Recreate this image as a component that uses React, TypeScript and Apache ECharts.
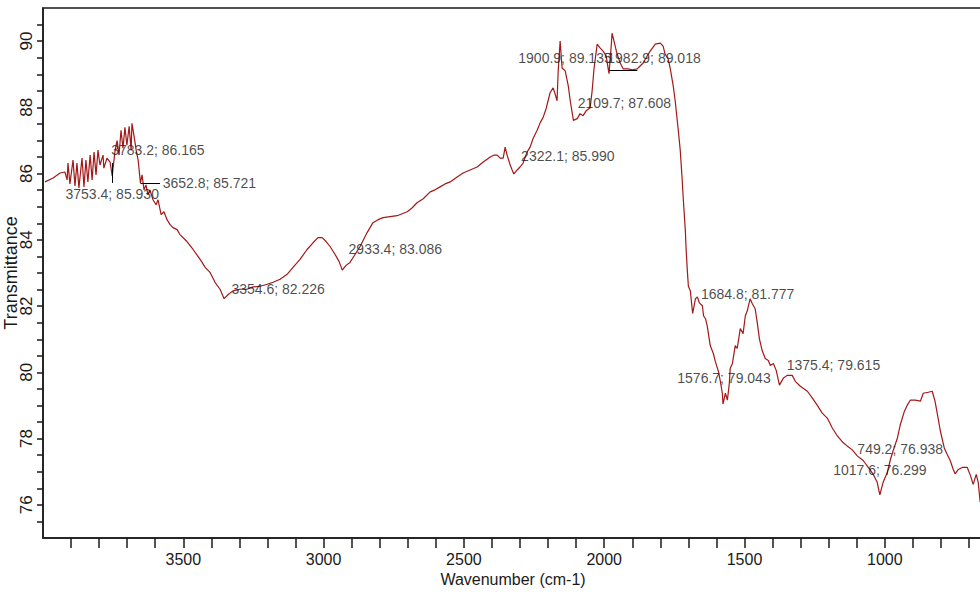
import React, { useEffect, useRef } from "react";
import * as echarts from "echarts";

// Spectrum (wavenumber in cm-1, transmittance in %)
const wavenumbers = [
  3993, 3964, 3939, 3922, 3914, 3911, 3904, 3893, 3886, 3879, 3872, 3861, 3854, 3847, 3840, 3832,
  3825, 3818, 3811, 3804, 3797, 3786, 3783.2, 3772, 3761, 3753.4, 3743, 3736, 3729, 3722, 3715, 3708,
  3701, 3693, 3686, 3683, 3676, 3668, 3661, 3652.8, 3647, 3640, 3633, 3626, 3619, 3608, 3597, 3590,
  3579, 3569, 3558, 3547, 3537, 3522, 3512, 3487, 3465, 3440, 3422, 3405, 3387, 3369, 3354.6, 3340,
  3323, 3298, 3273, 3251, 3226, 3201, 3180, 3155, 3130, 3109, 3084, 3059, 3037, 3020, 3005, 2991,
  2977, 2959, 2945, 2933.4, 2920, 2906, 2888, 2870, 2845, 2824, 2806, 2788, 2763, 2738, 2720, 2702,
  2684, 2667, 2645, 2620, 2603, 2585, 2567, 2549, 2524, 2503, 2478, 2453, 2431, 2406, 2392, 2381,
  2371, 2360, 2353, 2346, 2335, 2328, 2322.1, 2310, 2300, 2289, 2275, 2264, 2253, 2239, 2228, 2218,
  2207, 2200, 2193, 2182, 2175, 2168, 2164, 2157, 2150, 2139, 2128, 2121, 2109.7, 2096, 2086, 2075,
  2064, 2050, 2043, 2036, 2025, 2014, 2004, 1993, 1982.9, 1975, 1972, 1965, 1954, 1943, 1932, 1914,
  1900.9, 1882, 1872, 1861, 1847, 1836, 1818, 1800, 1790, 1783, 1772, 1765, 1754, 1747, 1736, 1729,
  1722, 1718, 1711, 1708, 1704, 1700, 1693, 1684.8, 1675, 1668, 1661, 1650, 1646, 1639, 1633, 1622,
  1611, 1604, 1593, 1586, 1579, 1576.7, 1568, 1561, 1554, 1551, 1543, 1533, 1526, 1515, 1505, 1497,
  1490, 1480, 1472, 1462, 1454, 1447, 1437, 1426, 1415, 1408, 1397, 1387, 1375.4, 1362, 1348, 1330,
  1319, 1301, 1276, 1258, 1241, 1223, 1205, 1187, 1169, 1151, 1134, 1116, 1098, 1077, 1059, 1041,
  1027, 1017.6, 1006, 991, 980, 970, 955, 945, 930, 920, 909, 891, 873, 863, 845, 831,
  821, 810, 802, 788, 777, 767, 756, 749.2, 738, 724, 706, 695, 685, 674, 667, 660,
];

const transmittance = [
  85.75, 85.87, 86.02, 86.05, 85.81, 86.32, 85.69, 86.41, 85.63, 86.32, 85.57, 86.47, 85.6, 86.41, 85.75, 86.56,
  85.81, 86.65, 85.96, 86.71, 86.26, 86.56, 86.165, 86.47, 86.35, 85.93, 86.71, 87.0, 86.56, 87.31, 86.77, 87.4,
  86.86, 87.43, 86.71, 87.52, 87.16, 86.71, 86.41, 85.721, 85.96, 85.51, 85.66, 85.36, 85.51, 85.21, 85.06, 85.21,
  84.76, 84.85, 84.61, 84.46, 84.37, 84.31, 84.16, 83.95, 83.71, 83.41, 83.17, 83.02, 82.72, 82.51, 82.226, 82.35,
  82.46, 82.51, 82.51, 82.58, 82.6, 82.66, 82.72, 82.81, 82.96, 83.17, 83.41, 83.71, 83.92, 84.07, 84.07, 83.95,
  83.8, 83.56, 83.35, 83.086, 83.23, 83.32, 83.56, 83.8, 84.22, 84.52, 84.61, 84.67, 84.7, 84.73, 84.79, 84.85,
  84.97, 85.12, 85.24, 85.45, 85.51, 85.6, 85.69, 85.75, 85.9, 86.02, 86.11, 86.2, 86.35, 86.5, 86.56, 86.56,
  86.47, 86.47, 86.8, 86.56, 86.26, 86.11, 85.99, 86.11, 86.2, 86.32, 86.65, 86.8, 87.07, 87.31, 87.54, 87.69,
  87.96, 88.2, 88.44, 88.59, 88.41, 88.2, 89.1, 90.0, 89.19, 89.1, 88.65, 88.2, 87.608, 87.66, 87.81, 87.75,
  87.9, 87.99, 88.5, 89.19, 89.91, 89.79, 89.7, 89.55, 89.018, 89.85, 90.24, 90.0, 89.61, 89.34, 89.16, 89.16,
  89.135, 89.16, 89.25, 89.34, 89.55, 89.7, 89.91, 89.94, 89.85, 89.61, 89.46, 89.19, 88.65, 88.2, 87.31, 86.71,
  85.81, 85.21, 84.31, 83.71, 83.11, 82.6, 82.46, 81.777, 82.22, 82.28, 82.1, 82.01, 81.71, 81.62, 81.41, 80.81,
  80.57, 80.33, 80.03, 79.73, 79.37, 79.043, 79.37, 79.16, 79.67, 80.12, 80.27, 80.81, 80.72, 81.32, 81.17, 81.71,
  81.86, 82.22, 82.07, 81.92, 81.47, 81.02, 80.66, 80.42, 80.36, 80.21, 80.27, 80.06, 79.615, 79.82, 79.91, 79.91,
  79.73, 79.58, 79.43, 79.22, 79.01, 78.77, 78.62, 78.32, 78.08, 77.9, 77.78, 77.66, 77.48, 77.34, 77.13, 76.92,
  76.68, 76.299, 76.68, 76.98, 77.37, 77.64, 78.02, 78.41, 78.83, 79.01, 79.16, 79.16, 79.13, 79.37, 79.4, 79.43,
  79.13, 78.62, 78.23, 77.72, 77.51, 77.34, 77.07, 76.938, 77.07, 77.13, 77.13, 76.89, 76.62, 76.92, 76.68, 76.08,
];

// Peak picks annotated on the chart
const peakWavenumbers = [3783.2, 3753.4, 3652.8, 3354.6, 2933.4, 2322.1, 2109.7, 1982.9, 1900.9, 1684.8, 1576.7, 1375.4, 1017.6, 749.2];
const peakTransmittance = [86.165, 85.93, 85.721, 82.226, 83.086, 85.99, 87.608, 89.018, 89.135, 81.777, 79.043, 79.615, 76.299, 76.938];

// Axis ticks
const xLabelValues = [1000, 1500, 2000, 2500, 3000, 3500];
const xTickValues = [
  700, 800, 900, 1000, 1100, 1200, 1300, 1400, 1500, 1600, 1700, 1800, 1900, 2000, 2100, 2200,
  2300, 2400, 2500, 2600, 2700, 2800, 2900, 3000, 3100, 3200, 3300, 3400, 3500, 3600, 3700, 3800, 3900,
];
const yLabelValues = [76, 78, 80, 82, 84, 86, 88, 90];
const yTickValues = [
  75.5, 76, 76.5, 77, 77.5, 78, 78.5, 79, 79.5, 80, 80.5, 81, 81.5, 82, 82.5, 83,
  83.5, 84, 84.5, 85, 85.5, 86, 86.5, 87, 87.5, 88, 88.5, 89, 89.5, 90, 90.5,
];

// Leader lines of the peak picks: [from wavenumber, from T, to wavenumber, to T]
const leaderLines = [
  [3652.8, 85.721, 3583, 85.721],
  [3753.4, 86.32, 3753.4, 85.72],
  [1982.9, 89.13, 1882, 89.13],
];

// Label placement (pixels, relative to the peak point)
const peakLabelOffsets = [
  [54, -18], [0, 18], [69, 0], [54, -10], [53, -21], [54, -18], [51, -17],
  [45, -16], [-67, -12], [55, -20], [1, -26], [54, -20], [0, -25], [-55, -25],
];

const FONT = "'Liberation Sans', Arial, Helvetica, sans-serif";
const INK = "#1a1a1a";

export default function App() {
  const ref = useRef<HTMLDivElement>(null);

  useEffect(() => {
    document.body.style.margin = "0";
    if (!ref.current) return;
    const chart = echarts.init(ref.current, undefined, { renderer: "svg" });

    const lineData = wavenumbers.map((w, i) => [w, transmittance[i]]);
    const peakData = peakWavenumbers.map((w, i) => ({
      value: [w, peakTransmittance[i]],
      label: { offset: peakLabelOffsets[i] },
    }));

    chart.setOption({
      animation: false,
      backgroundColor: "#ffffff",
      grid: {
        left: 43,
        right: -3,
        top: 8,
        bottom: 62,
        outerBoundsMode: "none",
        containLabel: false,
        show: true,
        borderColor: INK,
        borderWidth: 1.5,
        backgroundColor: "transparent",
      },
      xAxis: {
        type: "value",
        inverse: true,
        min: 650,
        max: 4000,
        name: "Wavenumber (cm-1)",
        nameLocation: "middle",
        nameGap: 33,
        nameMoveOverlap: false,
        nameTextStyle: { fontSize: 16, color: INK, fontFamily: FONT },
        axisLine: { show: true, lineStyle: { color: INK, width: 1.5 } },
        axisTick: {
          show: true,
          customValues: xTickValues,
          length: 10,
          lineStyle: { color: INK, width: 1.5 },
        },
        axisLabel: {
          customValues: xLabelValues,
          formatter: (v: number) => String(v),
          fontSize: 16,
          color: INK,
          fontFamily: FONT,
          margin: 13,
        },
        splitLine: { show: false },
      },
      yAxis: {
        type: "value",
        min: 75,
        max: 91,
        name: "Transmittance",
        nameLocation: "middle",
        nameRotate: 90,
        nameGap: 23,
        nameMoveOverlap: false,
        nameTextStyle: { fontSize: 18, color: INK, fontFamily: FONT },
        axisLine: { show: true, lineStyle: { color: INK, width: 1.5 } },
        axisTick: {
          show: true,
          customValues: yTickValues,
          length: 6,
          lineStyle: { color: INK, width: 1.5 },
        },
        axisLabel: {
          customValues: yLabelValues,
          formatter: (v: number) => String(v),
          rotate: 90,
          fontSize: 17,
          color: INK,
          fontFamily: FONT,
          margin: 8,
        },
        splitLine: { show: false },
      },
      series: [
        {
          type: "line",
          data: lineData,
          showSymbol: false,
          symbol: "none",
          lineStyle: { color: "#a31818", width: 1.2 },
          z: 2,
        },
        {
          type: "scatter",
          data: peakData,
          symbolSize: 1,
          itemStyle: { color: "rgba(0,0,0,0)" },
          z: 3,
          label: {
            show: true,
            position: "inside",
            align: "center",
            verticalAlign: "middle",
            fontSize: 14,
            color: INK,
            fontFamily: FONT,
            formatter: (p: any) => `${p.value[0].toFixed(1)}; ${p.value[1].toFixed(3)}`,
          },
          markLine: {
            silent: true,
            symbol: "none",
            animation: false,
            label: { show: false },
            lineStyle: { color: "#000", width: 1, type: "solid" },
            data: leaderLines.map((l) => [
              { coord: [l[0], l[1]] },
              { coord: [l[2], l[3]] },
            ]),
          },
        },
      ],
    });

    return () => chart.dispose();
  }, []);

  return <div ref={ref} style={{ width: 980, height: 600 }} />;
}
